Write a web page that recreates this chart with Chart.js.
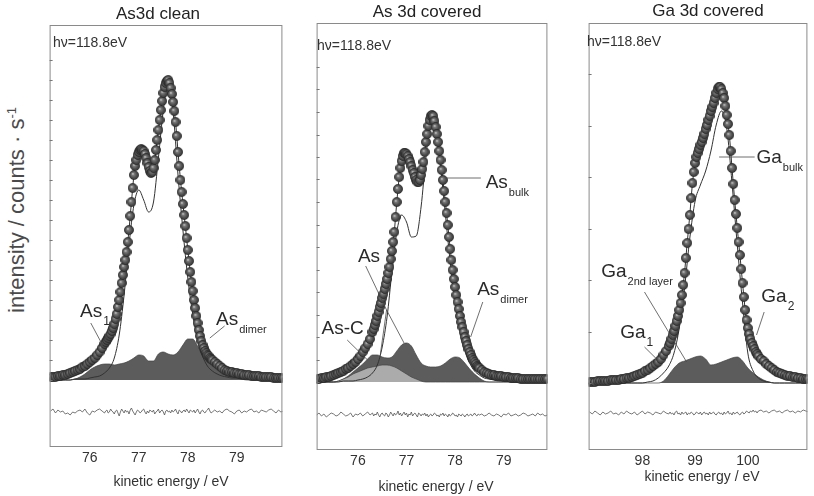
<!DOCTYPE html>
<html><head><meta charset="utf-8">
<script src="https://cdn.jsdelivr.net/npm/chart.js@4.4.1/dist/chart.umd.min.js"></script>
<style>
html,body{margin:0;padding:0;background:#fff;}
#wrap{position:relative;width:814px;height:496px;overflow:hidden;font-family:"Liberation Sans",Arial,sans-serif;color:#2a2a2a;}
canvas{position:absolute;top:0;}
.c{position:absolute;white-space:nowrap;transform:translate(-50%,-50%);}
.l{position:absolute;white-space:nowrap;transform:translate(0,-50%);}
.ttl{font-size:17px;color:#222;}
.hv{font-size:14px;color:#333;}
.xt{font-size:14px;color:#333;}
.yt{position:absolute;white-space:nowrap;font-size:22px;color:#4a4a4a;transform:translate(-50%,-50%) rotate(-90deg);}
.yt sup{font-size:13px;}
</style></head><body><div id="wrap">
<canvas id="c1" style="left:44px" width="244" height="496"></canvas>
<canvas id="c2" style="left:311px" width="242" height="496"></canvas>
<canvas id="c3" style="left:583px" width="230" height="496"></canvas>
<div class="c ttl" style="left:158px;top:14px">As3d clean</div>
<div class="c ttl" style="left:427px;top:12px">As 3d covered</div>
<div class="c ttl" style="left:708px;top:11px">Ga 3d covered</div>
<div class="l hv" style="left:53px;top:42px">hν=118.8eV</div>
<div class="l hv" style="left:317px;top:45px">hν=118.8eV</div>
<div class="l hv" style="left:587px;top:41px">hν=118.8eV</div>
<div class="c xt" style="left:171px;top:481px">kinetic energy / eV</div>
<div class="c xt" style="left:436px;top:486px">kinetic energy / eV</div>
<div class="c xt" style="left:702px;top:476px">kinetic energy / eV</div>
<div class="yt" style="left:17px;top:210px">intensity / counts · s<sup>-1</sup></div>
</div>
<script>
// ---------- As 3d clean ----------
const E_clean = [75.20,75.25,75.30,75.35,75.40,75.45,75.50,75.55,75.60,75.65,75.70,75.75,75.80,75.85,75.90,75.95,76.00,76.05,76.10,76.15,76.20,76.25,
76.300,76.325,76.350,76.375,76.400,76.425,76.450,76.475,76.500,76.525,76.550,76.575,76.600,76.625,76.650,76.675,76.700,76.725,76.750,76.775,76.800,76.825,76.850,76.875,76.900,76.925,76.950,76.975,77.000,77.025,77.050,77.075,77.100,77.125,77.150,77.175,77.200,77.225,77.250,77.275,77.300,77.325,77.350,77.375,77.400,77.425,77.450,77.475,77.500,77.525,77.550,77.575,77.600,77.625,77.650,77.675,77.700,77.725,77.750,77.775,77.800,77.825,77.850,77.875,77.900,77.925,77.950,77.975,78.000,78.025,78.050,78.075,78.100,78.125,78.150,78.175,78.200,78.225,78.250,78.275,78.300,78.325,78.350,78.375,78.400,78.425,78.450,78.475,78.500,
78.55,78.60,78.65,78.70,78.75,78.80,78.85,78.90,78.95,79.00,79.05,79.10,79.15,79.20,79.25,79.30,79.35,79.40,79.45,79.50,79.55,79.60,79.65,79.70,79.75,79.80,79.85,79.90,79.95];
const I_clean = [3,3,3,4,4,5,5,6,7,8,9,10,11,13,14,16,18,20,22,25,28,32,
36,38,40,42,44,46,49,52,56,61,66,73,80,88,97,105,113,120,128,138,150,164,178,192,205,214,220,225,228,230,231,230,229,226,222,217,213,209,207,208,212,220,230,240,250,260,270,279,287,293,297,299,300,297,292,286,278,269,258,244,228,214,200,188,176,165,154,142,130,119,108,98,89,80,72,64,57,50,44,39,35,32,29,27,25,24,22,21,20,
18,16,14,12,10,9,8,8,7,7,6,6,5,5,5,4,4,4,4,3,3,3,3,3,2,2,2,2,2];
const R_clean = [-31,-29,-33,-30,-32,-31,-34,-33,-35,-32,-33,-31,-30,-32,-29,-33,-35,-31,-32,-30,-29,-31,
-33,-31,-30,-33,-32,-29,-31,-32,-34,-31,-30,-33,-36,-32,-29,-31,-33,-30,-32,-31,-34,-30,-28,-31,-33,-35,-32,-30,-31,-33,-32,-30,-29,-32,-34,-31,-33,-30,-31,-32,-30,-34,-32,-31,-29,-33,-31,-30,-32,-35,-31,-30,-32,-31,-33,-30,-32,-31,-29,-32,-34,-30,-31,-33,-31,-30,-32,-29,-31,-33,-30,-31,-32,-30,-33,-31,-29,-32,-34,-31,-30,-32,-33,-31,-30,-28,-31,-33,-32,
-30,-32,-31,-33,-30,-29,-31,-32,-34,-31,-30,-33,-31,-32,-30,-29,-32,-31,-33,-30,-31,-32,-30,-29,-31,-33,-30,-32,-31];
const G_as = [75.2,75.3,75.4,75.5,75.6,75.7,75.8,75.9,76.0,76.1,76.2,76.3,76.4,76.5,76.6,76.7,76.8,76.9,77.0,77.1,77.2,77.3,77.4,77.5,77.6,77.7,77.8,77.9,78.0,78.1,78.2,78.3,78.4,78.5,78.6,78.7,78.8,78.9,79.0,79.1,79.2,79.3,79.4,79.5,79.6,79.7,79.8,79.9];
const bulk_clean = [0,0,0,0,0,1,1,1,2,3,4,7,12,22,45,85,135,175,190,180,168,178,222,270,296,268,205,150,102,66,40,24,14,9,6,4,3,2,2,1,1,1,1,0,0,0,0,0];
const surf_clean = [0,0,0,0,0,1,3,6,10,13,15,16,16,15,16,17,19,22,25,24,19,19,26,28,26,25,28,35,41,41,34,26,20,15,11,8,5,3,2,1,0,0,0,0,0,0,0,0];

// ---------- As 3d covered ----------
const E_cov = [75.15,75.20,75.25,75.30,75.35,75.40,75.45,75.50,75.55,75.60,75.65,75.70,75.75,75.80,75.85,75.90,75.95,76.00,76.05,76.10,76.15,76.20,76.25,
76.300,76.325,76.350,76.375,76.400,76.425,76.450,76.475,76.500,76.525,76.550,76.575,76.600,76.625,76.650,76.675,76.700,76.725,76.750,76.775,76.800,76.825,76.850,76.875,76.900,76.925,76.950,76.975,77.000,77.025,77.050,77.075,77.100,77.125,77.150,77.175,77.200,77.225,77.250,77.275,77.300,77.325,77.350,77.375,77.400,77.425,77.450,77.475,77.500,77.525,77.550,77.575,77.600,77.625,77.650,77.675,77.700,77.725,77.750,77.775,77.800,77.825,77.850,77.875,77.900,77.925,77.950,77.975,78.000,78.025,78.050,78.075,78.100,78.125,78.150,78.175,78.200,78.225,78.250,78.275,78.300,78.325,78.350,78.375,78.400,78.425,78.450,78.475,78.500,
78.55,78.60,78.65,78.70,78.75,78.80,78.85,78.90,78.95,79.00,79.05,79.10,79.15,79.20,79.25,79.30,79.35,79.40,79.45,79.50,79.55,79.60,79.65,79.70,79.75,79.80,79.85,79.90];
const I_cov = [3,3,4,4,5,5,6,7,8,9,10,11,13,14,16,18,20,23,26,30,34,38,43,
50,53,57,61,66,70,75,79,84,88,93,98,103,109,115,123,131,140,150,165,180,193,205,214,221,226,229,229,228,226,223,220,216,212,209,205,202,200,200,202,207,213,220,230,240,248,256,262,266,267,266,261,255,248,240,231,222,212,202,191,180,169,157,145,133,122,112,103,95,87,80,73,66,60,55,50,45,41,37,33,30,27,24,22,20,18,16,15,14,
12,10,9,8,7,7,6,6,6,5,5,5,4,4,4,4,3,3,3,3,3,3,3,3,3,3,3,3];
const R_cov = [-33,-31,-34,-32,-35,-33,-31,-32,-34,-33,-30,-32,-34,-33,-31,-35,-32,-33,-31,-34,-32,-30,-33,
-31,-34,-32,-33,-30,-33,-35,-32,-31,-33,-34,-31,-32,-35,-33,-30,-32,-34,-31,-33,-32,-29,-33,-31,-34,-32,-30,-33,-31,-35,-32,-33,-30,-34,-32,-31,-33,-35,-31,-32,-34,-32,-33,-31,-34,-32,-35,-33,-32,-34,-33,-31,-32,-34,-33,-35,-32,-33,-31,-34,-32,-33,-35,-32,-34,-33,-31,-32,-34,-33,-35,-32,-33,-34,-32,-33,-35,-33,-32,-34,-33,-32,-34,-33,-31,-33,-34,-32,-33,
-32,-34,-33,-31,-33,-34,-32,-33,-35,-32,-33,-31,-34,-33,-32,-34,-33,-31,-32,-34,-33,-32,-34,-31,-33,-32,-34,-33];
const bulk_cov = [0,0,0,0,0,1,1,1,2,3,5,9,17,35,65,110,150,167,160,145,146,175,225,262,250,215,168,120,82,52,32,19,11,7,4,3,2,1,1,1,0,0,0,0,0,0,0,0];
const surf_cov = [0,0,0,0,1,3,6,10,14,18,23,27,27,25,24,25,31,37,39,36,27,19,16,15,15,16,19,23,25,24,19,13,8,4,1,0,0,0,0,0,0,0,0,0,0,0,0,0];
const asC_cov = [0,0,0,0,1,3,5,8,10,12,14,15,16,17,17,16,14,11,8,5,3,1,0,0,0,0,0,0,0,0,0,0,0,0,0,0,0,0,0,0,0,0,0,0,0,0,0,0];

// ---------- Ga 3d covered ----------
const E_ga = [97.00,97.05,97.10,97.15,97.20,97.25,97.30,97.35,97.40,97.45,97.50,97.55,97.60,97.65,97.70,97.75,97.80,97.85,97.90,97.95,98.00,98.05,98.10,98.15,98.20,98.25,98.30,98.35,98.40,98.45,98.50,
98.525,98.550,98.575,98.600,98.625,98.650,98.675,98.700,98.725,98.750,98.775,98.800,98.825,98.850,98.875,98.900,98.925,98.950,98.975,99.000,99.025,99.050,99.075,99.100,99.125,99.150,99.175,99.200,99.225,99.250,99.275,99.300,99.325,99.350,99.375,99.400,99.425,99.450,99.475,99.500,99.525,99.550,99.575,99.600,99.625,99.650,99.675,99.700,99.725,99.750,99.775,99.800,99.825,99.850,99.875,99.900,99.925,99.950,99.975,100.000,100.025,100.050,100.075,100.100,100.125,100.150,100.175,100.200,
100.25,100.30,100.35,100.40,100.45,100.50,100.55,100.60,100.65,100.70,100.75,100.80,100.85,100.90,100.95,101.00,101.05,101.10,101.15];
const I_ga = [1,1,1,2,2,2,2,2,3,3,3,3,4,4,5,5,6,7,8,9,10,12,13,15,17,19,21,24,28,32,37,
40,44,48,52,57,62,67,73,80,88,98,110,125,140,154,168,185,200,211,220,226,230,234,238,241,245,249,254,258,263,267,272,276,280,285,290,294,296,296,294,290,285,277,268,259,248,232,215,199,183,169,155,141,128,114,100,86,73,63,55,49,44,40,37,34,31,29,27,
24,22,19,17,15,13,11,10,9,8,7,7,6,6,5,5,4,4,4];
const R_ga = [-29,-31,-28,-30,-32,-29,-31,-30,-28,-31,-30,-32,-29,-31,-28,-30,-31,-29,-32,-30,-28,-31,-29,-30,-32,-29,-30,-31,-28,-30,-31,
-29,-31,-30,-32,-29,-28,-31,-30,-32,-29,-31,-30,-29,-32,-30,-31,-29,-30,-32,-31,-29,-30,-31,-29,-32,-30,-29,-31,-30,-32,-29,-31,-30,-29,-31,-32,-30,-29,-31,-30,-32,-29,-31,-30,-28,-31,-30,-32,-29,-31,-30,-29,-31,-32,-30,-29,-31,-30,-28,-29,-30,-28,-29,-27,-29,-28,-30,-28,
-27,-29,-28,-30,-28,-27,-29,-28,-30,-28,-27,-29,-28,-30,-28,-29,-27,-28,-29];
const G_ga = [97.0,97.1,97.2,97.3,97.4,97.5,97.6,97.7,97.8,97.9,98.0,98.1,98.2,98.3,98.4,98.5,98.6,98.7,98.8,98.9,99.0,99.1,99.2,99.3,99.4,99.5,99.6,99.7,99.8,99.9,100.0,100.1,100.2,100.3,100.4,100.5,100.6,100.7,100.8,100.9,101.0,101.1];
const bulk_ga = [0,0,0,0,0,0,0,0,0,0,0,1,2,5,10,17,30,55,95,145,182,198,212,232,258,272,255,200,138,80,30,12,5,2,1,0,0,0,0,0,0,0];
const surf_ga = [0,0,0,0,0,0,0,0,0,0,0,0,0,0,2,8,15,20,22,24,26,27,24,18,19,21,23,25,26,22,15,10,6,3,1,0,0,0,0,0,0,0];

const xTicksAs = [76,77,78,79];
const xTicksGa = [98,99,100];

// ---------- drawing ----------
const FONT = '"Liberation Sans", Arial, sans-serif';
function pts(xs, ys){ return xs.map((x,i)=>({x:x, y:ys[i]})); }
function sphere(){
  const c=document.createElement('canvas'); c.width=10; c.height=10;
  const g=c.getContext('2d');
  const gr=g.createRadialGradient(3.8,3.8,0.2,5,5,5);
  gr.addColorStop(0,'#c8c8c8'); gr.addColorStop(0.25,'#7a7a7a'); gr.addColorStop(0.65,'#4c4c4c'); gr.addColorStop(1,'#343434');
  g.fillStyle=gr; g.beginPath(); g.arc(5,5,4.6,0,Math.PI*2); g.fill();
  g.strokeStyle='#2a2a2a'; g.lineWidth=0.7; g.stroke();
  return c;
}
const ball = sphere();

const decor = {
  id:'decor',
  afterDatasetsDraw(chart, args, o){
    const ctx=chart.ctx, x=chart.scales.x, y=chart.scales.y;
    ctx.save();
    ctx.strokeStyle='#4a4a4a'; ctx.lineWidth=0.8;
    (o.lines||[]).forEach(l=>{
      ctx.beginPath();
      ctx.moveTo(x.getPixelForValue(l[0]), y.getPixelForValue(l[1]));
      for(let i=2;i<l.length;i+=2) ctx.lineTo(x.getPixelForValue(l[i]), y.getPixelForValue(l[i+1]));
      ctx.stroke();
    });
    ctx.fillStyle='#2a2a2a'; ctx.textAlign='left'; ctx.textBaseline='alphabetic';
    (o.labels||[]).forEach(t=>{
      const px=x.getPixelForValue(t.x), py=y.getPixelForValue(t.y);
      ctx.font='19px '+FONT;
      ctx.fillText(t.text, px, py+7);
      if(t.sub){
        const w=ctx.measureText(t.text).width;
        ctx.font=(t.subSize||11)+'px '+FONT;
        ctx.fillText(t.sub, px+w+1, py+15);
      }
    });
    ctx.restore();
  },
  afterDraw(chart, args, o){
    const ctx=chart.ctx, a=chart.chartArea, y=chart.scales.y;
    ctx.save();
    ctx.strokeStyle='#8a8a8a'; ctx.lineWidth=1;
    ctx.strokeRect(a.left+0.5, a.top+0.5, a.right-a.left-1, a.bottom-a.top-1);
    ctx.strokeStyle='#777';
    for(let v=0; v<=o.tickMax+0.01; v+=o.tickStep){
      const py=Math.round(y.getPixelForValue(v))+0.5;
      ctx.beginPath(); ctx.moveTo(a.left, py); ctx.lineTo(a.left+3, py); ctx.stroke();
    }
    ctx.restore();
  }
};

function makeChart(id, c){
  return new Chart(document.getElementById(id), {
    type:'line',
    data:{datasets:c.datasets},
    options:{
      responsive:false, animation:false, events:[],
      layout:{padding:{left:1,right:1,top:c.top,bottom:0}},
      plugins:{legend:{display:false}, tooltip:{enabled:false}, decor:c.decor},
      scales:{
        x:{type:'linear', min:c.xmin, max:c.xmax,
           grid:{display:false, drawTicks:false, tickLength:0}, border:{display:false},
           ticks:{font:{size:14, family:FONT}, color:'#333', padding:3, maxRotation:0, autoSkip:false},
           afterBuildTicks:s=>{ s.ticks=c.xticks.map(v=>({value:v})); },
           afterFit:s=>{ s.height=c.xh; }},
        y:{type:'linear', display:false, min:c.ymin, max:c.ymax}
      }
    },
    plugins:[decor]
  });
}
function dataSet(E,I){ return {data:pts(E,I), showLine:true, borderColor:'#333', borderWidth:1, pointStyle:ball, pointRadius:4.6, tension:0, order:0}; }
function resSet(E,R){ return {data:pts(E,R), borderColor:'#555', borderWidth:0.8, pointRadius:0, tension:0, order:1}; }
function bulkSet(G,B){ return {data:pts(G,B), borderColor:'#333', borderWidth:1, pointRadius:0, cubicInterpolationMode:'monotone', order:2}; }
function fillSet(G,S,col,ord){ return {data:pts(G,S), borderColor:'#444', borderWidth:0.7, backgroundColor:col, fill:'origin', pointRadius:0, cubicInterpolationMode:'monotone', order:ord}; }

makeChart('c1', {
  top:25, xh:49, xmin:75.18, xmax:79.93, ymin:-67, ymax:355, xticks:xTicksAs,
  decor:{tickStep:20, tickMax:320,
    labels:[{text:'As', sub:'1', subSize:12, x:75.8, y:70},{text:'As', sub:'dimer', x:78.575, y:62}],
    lines:[[76.02,57,76.26,35],[78.75,54,78.45,42]]},
  datasets:[dataSet(E_clean,I_clean), resSet(E_clean,R_clean), bulkSet(G_as,bulk_clean), fillSet(G_as,surf_clean,'#5c5c5c',4)]
});
makeChart('c2', {
  top:23, xh:46, xmin:75.15, xmax:79.9, ymin:-68, ymax:359, xticks:xTicksAs,
  decor:{tickStep:22.5, tickMax:315,
    labels:[{text:'As', sub:'bulk', x:78.63, y:201},{text:'As', x:76.0, y:127},{text:'As', sub:'dimer', x:78.455, y:94},{text:'As-C', x:75.25, y:55}],
    lines:[[77.82,204,78.53,204],[76.16,116,76.59,72,76.46,27],[76.59,72,76.95,39],[78.57,80,78.32,45],[75.78,42,76.2,22]]},
  datasets:[dataSet(E_cov,I_cov), resSet(E_cov,R_cov), bulkSet(G_as,bulk_cov), fillSet(G_as,asC_cov,'#ababab',4), fillSet(G_as,surf_cov,'#5c5c5c',5)]
});
makeChart('c3', {
  top:23, xh:46, xmin:96.98, xmax:101.13, ymin:-67, ymax:360, xticks:xTicksGa,
  decor:{tickStep:51.5, tickMax:309,
    labels:[{text:'Ga', sub:'bulk', x:100.165, y:227},{text:'Ga', sub:'2nd layer', x:97.22, y:113},{text:'Ga', sub:'1', subSize:12, x:97.58, y:52},{text:'Ga', sub:'2', subSize:12, x:100.256, y:88}],
    lines:[[99.455,226,100.13,226],[98.04,91,98.84,21],[98.04,36,98.29,23],[100.31,71,100.165,48]]},
  datasets:[dataSet(E_ga,I_ga), resSet(E_ga,R_ga), bulkSet(G_ga,bulk_ga), fillSet(G_ga,surf_ga,'#5c5c5c',4)]
});
</script>
</body></html>
